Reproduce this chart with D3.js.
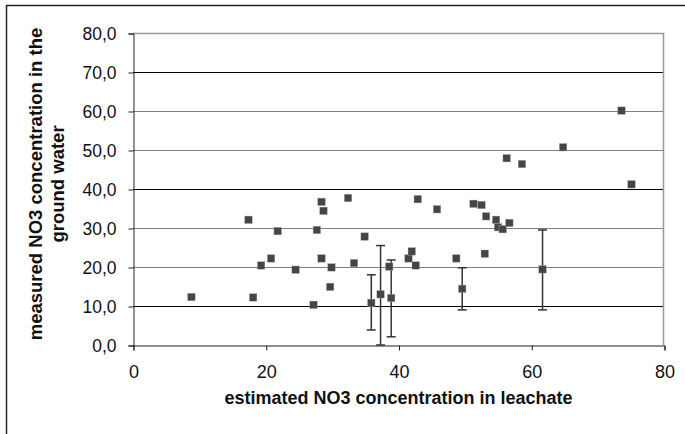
<!DOCTYPE html>
<html><head><meta charset="utf-8">
<script src="https://cdn.jsdelivr.net/npm/d3@7/dist/d3.min.js"></script>
<style>html,body{margin:0;padding:0;background:#fff;}svg{display:block;}</style>
</head><body>
<script>
// Data
const estimated = [8.8, 17.4, 18.1, 19.3, 20.8, 21.8, 24.5, 27.2, 27.7, 28.4, 28.4, 28.7, 29.9, 29.7, 32.4, 33.3, 34.9, 35.9, 37.3, 38.6, 38.9, 41.5, 42.0, 42.6, 42.9, 45.8, 48.7, 49.6, 51.3, 52.5, 53.2, 53.0, 54.7, 55.0, 55.7, 56.7, 56.3, 58.6, 61.7, 64.8, 73.6, 75.1];
const measured  = [12.3, 32.1, 12.2, 20.4, 22.2, 29.2, 19.3, 10.3, 29.5, 36.7, 22.2, 34.4, 19.9, 14.9, 37.7, 21.0, 27.8, 10.8, 13.0, 20.1, 12.05, 22.2, 24.0, 20.4, 37.4, 34.8, 22.2, 14.4, 36.2, 35.9, 33.0, 23.4, 32.1, 30.2, 29.7, 31.3, 47.9, 46.4, 19.4, 50.7, 60.1, 41.2];
const errX    = [35.9, 37.3, 38.9, 49.6, 61.7];
const errLow  = [3.85, 0.0, 2.1, 9.0, 9.0];
const errHigh = [18.0, 25.5, 21.8, 19.8, 29.5];
const xTicks = [0, 20, 40, 60, 80];
const yTicks = [0, 10, 20, 30, 40, 50, 60, 70, 80];
const xTitle = "estimated NO3 concentration in leachate";
const yTitleLines = ["measured NO3 concentration in the", "ground water"];

const W = 685, H = 434;
const L = 133, R = 664, T = 33, B = 345;
const FONT = "Liberation Sans, Arial, sans-serif";

const svg = d3.select("body").append("svg").attr("width", W).attr("height", H);

// outer frame
svg.append("rect").attr("x", 6.5).attr("y", 5.5).attr("width", 720).attr("height", 500)
  .attr("fill", "none").attr("stroke", "#222").attr("stroke-width", 1.5);

const x = d3.scaleLinear().domain([0, 80]).range([L, R]);
const y = d3.scaleLinear().domain([0, 80]).range([B, T]);

// gridlines
const gridColor = v => (v === 70 || v === 40 || v === 10) ? "#000" : "#808080";
svg.append("g").selectAll("line").data(yTicks.filter(v => v > 0 && v < 80)).join("line")
  .attr("x1", L).attr("x2", R)
  .attr("y1", d => Math.round(y(d)) + 0.5).attr("y2", d => Math.round(y(d)) + 0.5)
  .attr("stroke", gridColor).attr("stroke-width", 1);

// plot area border (top/right)
svg.append("path")
  .attr("d", `M${L},${T + 0.5}H${R - 0.5}V${B}`)
  .attr("fill", "none").attr("stroke", "#999").attr("stroke-width", 1.5);

// axes
const yAxis = d3.axisLeft(y).tickValues(yTicks).tickSize(5).tickPadding(12)
  .tickFormat(d => d3.format(".1f")(d).replace(".", ","));
const gy = svg.append("g").attr("transform", `translate(${L + 0.5},0.5)`).call(yAxis);
gy.select(".domain").attr("stroke", "#222");
gy.selectAll(".tick line").attr("stroke", "#222");
gy.selectAll("text").attr("font-family", FONT).attr("font-size", 17.5).attr("fill", "#111");

const xAxis = d3.axisBottom(x).tickValues(xTicks).tickSize(5).tickPadding(15).tickFormat(d3.format("d"));
const gx = svg.append("g").attr("transform", `translate(0.5,${B + 0.5})`).call(xAxis);
gx.select(".domain").attr("stroke", "#222");
gx.selectAll(".tick line").attr("stroke", "#222");
gx.selectAll("text").attr("font-family", FONT).attr("font-size", 18).attr("fill", "#111");

// error bars
const eb = svg.append("g").attr("stroke", "#333").attr("stroke-width", 1.5);
errX.forEach((ex, i) => {
  const cx = x(ex);
  eb.append("line").attr("x1", cx).attr("x2", cx).attr("y1", y(errLow[i])).attr("y2", y(errHigh[i]));
  eb.append("line").attr("x1", cx - 4.5).attr("x2", cx + 4.5).attr("y1", y(errLow[i])).attr("y2", y(errLow[i]));
  eb.append("line").attr("x1", cx - 4.5).attr("x2", cx + 4.5).attr("y1", y(errHigh[i])).attr("y2", y(errHigh[i]));
});

// markers
const pts = estimated.map((v, i) => ({ x: v, y: measured[i] }));
const s = 7.5;
svg.append("g").selectAll("rect").data(pts).join("rect")
  .attr("x", d => x(d.x) - s / 2).attr("y", d => y(d.y) - s / 2)
  .attr("width", s).attr("height", s)
  .attr("fill", "#454545").attr("stroke", "#aaa").attr("stroke-width", 0.4);

// axis titles
svg.append("text").attr("x", (L + R) / 2).attr("y", 404)
  .attr("text-anchor", "middle").attr("font-family", FONT)
  .attr("font-weight", "bold").attr("font-size", 18).attr("fill", "#111").text(xTitle);

const yt = svg.append("text").attr("transform", `translate(42,184) rotate(-90)`)
  .attr("text-anchor", "middle").attr("font-family", FONT)
  .attr("font-weight", "bold").attr("font-size", 18.5).attr("fill", "#111");
yTitleLines.forEach((t, i) => {
  yt.append("tspan").attr("x", 0).attr("dy", i === 0 ? 0 : 22).text(t);
});
</script>
</body></html>
